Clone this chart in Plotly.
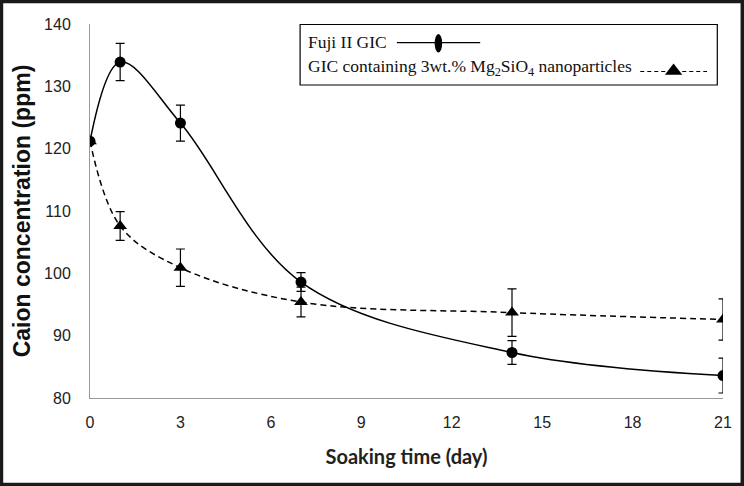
import plotly.graph_objects as go

# ---- data ----
days = [0, 1, 3, 7, 14, 21]
fuji_values = [121.2, 133.9, 124.1, 98.6, 87.3, 83.6]
fuji_errors = [0.0, 3.0, 2.9, 1.5, 1.9, 2.8]
mg_values = [121.2, 107.6, 100.9, 95.4, 93.7, 92.6]
mg_errors = [0.0, 2.3, 3.0, 2.4, 3.8, 3.3]
x_ticks = [0, 3, 6, 9, 12, 15, 18, 21]
y_ticks = [80, 90, 100, 110, 120, 130, 140]
fuji_name = "Fuji II GIC"
mg_name = "GIC containing 3wt.% Mg<sub>2</sub>SiO<sub>4</sub> nanoparticles"

W, H = 744, 486
L, R, T, B = 90, 744 - 722.7, 24, 88

fig = go.Figure()

fig.add_trace(go.Scatter(
    x=days, y=mg_values, mode="lines+markers", name="mg",
    line=dict(color="black", width=1.5, dash="6px,4px", shape="spline", smoothing=1.0),
    marker=dict(symbol="triangle-up", size=12, color="black"),
    error_y=dict(type="data", array=mg_errors, visible=True, color="black", thickness=1.2, width=4.5),
    showlegend=False,
))
fig.add_trace(go.Scatter(
    x=days, y=fuji_values, mode="lines+markers", name="fuji",
    line=dict(color="black", width=1.5, shape="spline", smoothing=1.0),
    marker=dict(symbol="circle", size=11, color="black"),
    error_y=dict(type="data", array=fuji_errors, visible=True, color="black", thickness=1.2, width=4.5),
    showlegend=False,
))

# legend sample traces on a pixel-coordinate overlay axis
fig.add_trace(go.Scatter(
    x=[396.7, 480], y=[42.7, 42.7], xaxis="x2", yaxis="y2", mode="lines",
    line=dict(color="black", width=1.2), showlegend=False, hoverinfo="skip",
))
fig.add_trace(go.Scatter(
    x=[640, 706.7], y=[71.5, 71.5], xaxis="x2", yaxis="y2", mode="lines",
    line=dict(color="black", width=1.2, dash="4px,3px"), showlegend=False, hoverinfo="skip",
))
fig.add_trace(go.Scatter(
    x=[673.3], y=[71], xaxis="x2", yaxis="y2", mode="markers",
    marker=dict(symbol="triangle-up", size=15, color="black"), showlegend=False, hoverinfo="skip",
))

shapes = [
    # outer frame
    dict(type="rect", xref="paper", yref="paper",
         x0=(1.5 - L) / 632.7, x1=(742 - L) / 632.7,
         y0=(398 - 484.5) / 374, y1=(398 - 1.5) / 374,
         line=dict(color="#1a1a1a", width=3.5), layer="above"),
    # legend box
    dict(type="rect", xref="x2", yref="y2", x0=300, x1=717, y0=24.5, y1=85,
         line=dict(color="black", width=1.2), fillcolor="rgba(0,0,0,0)"),
    # legend ellipse marker
    dict(type="circle", xref="x2", yref="y2", x0=434.5, x1=442, y0=34, y1=52.5,
         line=dict(color="black", width=0), fillcolor="black"),
]

annotations = [
    dict(text=fuji_name, xref="x2", yref="y2", x=306, y=41.5, xanchor="left", yanchor="middle",
         showarrow=False, font=dict(family="Liberation Serif", size=17.5, color="#111")),
    dict(text=mg_name, xref="x2", yref="y2", x=306, y=67.5, xanchor="left", yanchor="middle",
         showarrow=False, font=dict(family="Liberation Serif", size=17.5, color="#111")),
]

fig.update_layout(
    width=W, height=H,
    margin=dict(l=L, r=R, t=T, b=B),
    paper_bgcolor="white", plot_bgcolor="white",
    showlegend=False,
    shapes=shapes, annotations=annotations,
    xaxis=dict(
        range=[0, 21], tickvals=x_ticks, ticktext=[str(v) for v in x_ticks],
        showgrid=False, zeroline=False, showline=True, linecolor="#999", linewidth=1,
        ticks="", ticklen=0, ticklabelstandoff=10,
        tickfont=dict(family="Liberation Sans", size=16, color="#222"),
        title=dict(text="<b>Soaking time (day)</b>", standoff=19,
                   font=dict(family="Lato", size=20, color="#222")),
    ),
    yaxis=dict(
        range=[80, 140], tickvals=y_ticks, ticktext=[str(v) for v in y_ticks],
        showgrid=False, zeroline=False, showline=True, linecolor="#999", linewidth=1,
        ticks="", ticklen=0, ticklabelstandoff=15,
        tickfont=dict(family="Liberation Sans", size=16, color="#222"),
        title=dict(text="<b>Caion concentration (ppm)</b>", standoff=7,
                   font=dict(family="Liberation Sans", size=23, color="#111")),
    ),
    xaxis2=dict(range=[L, 722.7], domain=[0, 1], overlaying="x", visible=False, anchor="y2"),
    yaxis2=dict(range=[398, 24], domain=[0, 1], overlaying="y", visible=False, anchor="x2"),
)

fig.write_html("out.html", config={"displayModeBar": False},
               post_script="document.body.style.margin='0px';document.body.style.padding='0px';")
